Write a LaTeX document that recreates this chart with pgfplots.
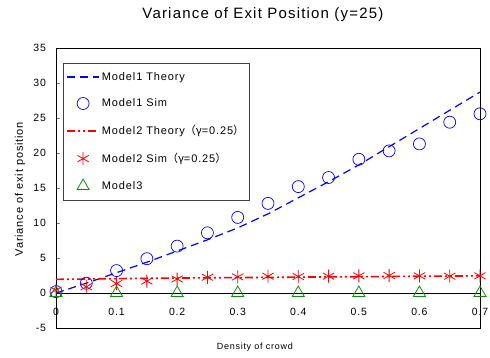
\documentclass[border=0pt]{standalone}
\usepackage{fontspec}
\setmainfont{Liberation Sans}[LetterSpace=8]
\newfontfamily\cjk{Noto Sans CJK JP}
\usepackage{pgfplots}
\pgfplotsset{compat=1.18}
\definecolor{mgreen}{RGB}{20,140,20}
\begin{document}
\begin{tikzpicture}
\useasboundingbox (-56pt,-29pt) rectangle (434pt,328pt);
\begin{axis}[
  at={(0,0)}, anchor=south west,
  scale only axis, width=424pt, height=280pt,
  xmin=0, xmax=0.7, ymin=-5, ymax=35,
  clip=false,
  xtick={0,0.1,0.2,0.3,0.4,0.5,0.6,0.7},
  xticklabels={0,0.1,0.2,0.3,0.4,0.5,0.6,0.7},
  ytick={-5,0,5,10,15,20,25,30,35},
  tick align=inside,
  ytick pos=left,
  xtick pos=bottom,
  major tick length=4pt,
  x tick style={draw=none},
  /pgf/number format/assume math mode=true,
  y tick label style={font=\fontsize{10.5}{12}\selectfont, xshift=-6.5pt},
  x tick label style={font=\fontsize{10.5}{12}\selectfont, anchor=center, yshift=16.3pt},
  axis line style={black, line width=0.8pt},
  title={Variance of Exit Position (y=25)},
  title style={at={(axis description cs:0.488,1)}, anchor=center, yshift=27pt, font=\fontsize{15}{18}\selectfont},
  xlabel={Density of crowd},
  xlabel style={at={(axis description cs:0.469,0)}, anchor=center, yshift=-19pt, font=\fontsize{9}{11}\selectfont},
  ylabel={Variance of exit position},
  ylabel style={at={(axis description cs:-0.0849,0.496)}, anchor=center, font=\fontsize{11}{13}\selectfont},
  legend cell align=left,
  legend style={at={(axis description cs:0,1)}, anchor=north west, xshift=7pt, yshift=-15pt,
    draw=black!75, line width=0.6pt, font=\fontsize{11}{13}\selectfont,
    row sep=13pt, inner xsep=3pt, inner ysep=7pt,
    /tikz/every even column/.append style={column sep=0pt}},
  legend image code/.code={\draw[mark repeat=2,mark phase=2,#1] plot coordinates {(0pt,0pt) (16pt,0pt) (32pt,0pt)};},
]
\draw[black, line width=0.6pt] (axis cs:0,0) -- (axis cs:0.7,0);
\addplot[blue, line width=1.2pt, dash pattern=on 8pt off 5pt] coordinates {
(0,0) (0.05,1.4) (0.1,2.9) (0.15,4.4) (0.2,6.0) (0.25,7.6) (0.3,9.3) (0.35,11.3)
(0.4,13.6) (0.45,15.9) (0.5,18.3) (0.55,20.9) (0.6,23.5) (0.65,26.1) (0.7,28.7)};
\addlegendentry{Model1 Theory}
\addplot[only marks, blue, mark=o, mark size=6pt, line width=0.7pt] coordinates {
(0,0.2) (0.05,1.4) (0.1,3.2) (0.15,4.9) (0.2,6.7) (0.25,8.6) (0.3,10.8) (0.35,12.8)
(0.4,15.2) (0.45,16.5) (0.5,19.1) (0.55,20.3) (0.6,21.3) (0.65,24.4) (0.7,25.6)};
\addlegendentry{Model1 Sim}
\addplot[red, line width=1.6pt, dash pattern=on 8pt off 3pt on 2pt off 3pt on 2pt off 3pt] coordinates {
(0,1.95) (0.05,2.0) (0.1,2.05) (0.15,2.1) (0.2,2.13) (0.25,2.17) (0.3,2.2) (0.35,2.23)
(0.4,2.27) (0.45,2.3) (0.5,2.33) (0.55,2.36) (0.6,2.4) (0.65,2.42) (0.7,2.45)};
\addlegendentry{Model2 Theory{\cjk （γ}=0.25{\cjk ）}}
\addplot[only marks, red, mark=asterisk, mark size=6.5pt, line width=0.8pt] coordinates {
(0,0.4) (0.05,0.9) (0.1,1.35) (0.15,1.7) (0.2,2.0) (0.25,2.25) (0.3,2.3) (0.35,2.4)
(0.4,2.35) (0.45,2.4) (0.5,2.45) (0.55,2.5) (0.6,2.45) (0.65,2.4) (0.7,2.45)};
\addlegendentry{Model2 Sim{\cjk （γ}=0.25{\cjk ）}}
\addplot[only marks, mgreen, mark=triangle, mark size=7pt, line width=0.8pt] coordinates {
(0,0) (0.1,0) (0.2,0) (0.3,0) (0.4,0) (0.5,0) (0.6,0) (0.7,0)};
\addlegendentry{Model3}
\end{axis}
\end{tikzpicture}
\end{document}
